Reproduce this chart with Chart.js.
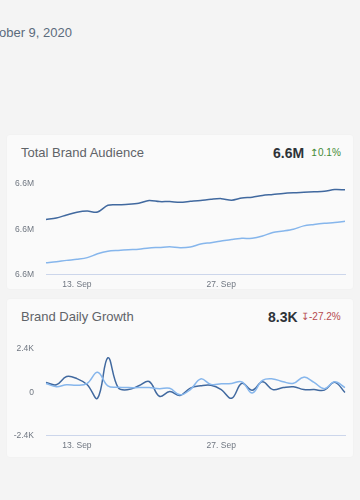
<!DOCTYPE html>
<html>
<head>
<meta charset="utf-8">
<script src="https://cdn.jsdelivr.net/npm/chart.js@4/dist/chart.umd.min.js"></script>
<style>
  body { margin: 0; width: 360px; height: 500px; background: #f4f4f4; font-family: "Liberation Sans", Arial, sans-serif; overflow: hidden; position: relative; }
  .date { position: absolute; right: 288px; top: 25px; font-size: 13px; color: #5b6b7c; white-space: nowrap; }
  .card { position: absolute; left: 7px; width: 346px; background: #fafafa; border-radius: 3px; box-shadow: 0 0 2px rgba(0,0,0,0.04); }
  .title { position: absolute; left: 14px; font-size: 13px; color: #5f6368; line-height: 16px; }
  .value { position: absolute; font-size: 14px; font-weight: bold; color: #2e3338; line-height: 16px; }
  .change { position: absolute; font-size: 10px; line-height: 16px; }
  .up { color: #438a36; }
  .down { color: #b64a4f; }
  .box { position: absolute; left: 0; width: 346px; }
</style>
</head>
<body>
<div class="date">October 9, 2020</div>

<div class="card" style="top:135px;height:154px;">
  <div class="title" style="top:10px;">Total Brand Audience</div>
  <div class="value" style="left:266px;top:10px;">6.6M</div>
  <div class="change up" style="left:303px;top:10px;">&#x21A5;0.1%</div>
  <div class="box" style="top:32px;height:125px;"><canvas id="audience"></canvas></div>
</div>

<div class="card" style="top:299px;height:158px;">
  <div class="title" style="top:10px;">Brand Daily Growth</div>
  <div class="value" style="left:261px;top:10px;">8.3K</div>
  <div class="change down" style="left:294px;top:10px;">&#x21A7;-27.2%</div>
  <div class="box" style="top:33px;height:121px;"><canvas id="growth"></canvas></div>
</div>

<script>
const days = ['10. Sep', '11. Sep', '12. Sep', '13. Sep', '14. Sep', '15. Sep', '16. Sep', '17. Sep', '18. Sep', '19. Sep',
  '20. Sep', '21. Sep', '22. Sep', '23. Sep', '24. Sep', '25. Sep', '26. Sep', '27. Sep', '28. Sep', '29. Sep',
  '30. Sep', '1. Oct', '2. Oct', '3. Oct', '4. Oct', '5. Oct', '6. Oct', '7. Oct', '8. Oct', '9. Oct'];
const shownDays = ['13. Sep', '27. Sep'];

const audienceTotal = [6604400, 6605100, 6606400, 6607600, 6608100, 6607700, 6610700, 6610900, 6611100, 6611600,
  6612800, 6612300, 6612300, 6612000, 6612400, 6612800, 6613300, 6613600, 6612900, 6613900,
  6614200, 6615000, 6615400, 6615900, 6616200, 6616400, 6616600, 6616800, 6617600, 6617500];
const audienceCompare = [6585300, 6585800, 6586400, 6586900, 6587600, 6589300, 6590400, 6590800, 6591100, 6591300,
  6591900, 6592100, 6592400, 6592000, 6592300, 6593600, 6594200, 6594900, 6595600, 6596100,
  6596100, 6597100, 6598700, 6599300, 6600100, 6601600, 6602200, 6602700, 6603100, 6603600];
const audienceTicks = [6580000, 6600000, 6620000];

const growthTotal = [560, 430, 880, 770, 430, -320, 1920, 270, 160, 370,
  610, -210, 50, -160, 240, 370, 400, 160, -320, 510,
  130, 590, 160, 270, 320, 160, 160, 130, 560, 0];
const growthCompare = [500, 320, 430, 400, 510, 1120, 370, 290, 270, 270,
  270, 210, 230, -130, 160, 750, 450, 480, 500, 590,
  -30, 670, 750, 590, 510, 850, 560, 210, 590, 270];
const growthTicks = [-2400, 0, 2400];

const darkBlue = '#41699f';
const lightBlue = '#86b6ec';
const tickFont = { family: '"Liberation Sans", Arial, sans-serif', size: 8.5 };

function lineChart(id, a, b, ticks, fmt, tension) {
  return new Chart(document.getElementById(id).getContext('2d'), {
    type: 'line',
    data: {
      labels: days,
      datasets: [{
        data: b,
        borderColor: lightBlue,
        borderWidth: 1.5,
        pointRadius: 0,
        tension: tension
      },
      {
        data: a,
        borderColor: darkBlue,
        borderWidth: 1.5,
        pointRadius: 0,
        tension: tension
      }]
    },
    options: {
      animation: false,
      responsive: true,
      maintainAspectRatio: false,
      layout: { padding: { top: 0, right: 8, left: 0, bottom: 0 } },
      plugins: { legend: { display: false }, tooltip: { enabled: false } },
      scales: {
        x: {
          grid: { display: false, drawTicks: false },
          border: { color: '#ccd6eb', width: 1 },
          ticks: {
            autoSkip: false,
            maxRotation: 0,
            padding: 5,
            color: '#6f7680',
            font: tickFont,
            callback: function (v, i) {
              return shownDays.includes(days[i]) ? days[i] : '';
            }
          },
          afterFit: function (s) { s.height = 17; }
        },
        y: {
          min: ticks[0],
          max: ticks[ticks.length - 1],
          afterBuildTicks: function (s) { s.ticks = ticks.map(v => ({ value: v })); },
          grid: { display: false, drawTicks: false },
          border: { display: false },
          ticks: {
            padding: 12,
            color: '#6f7680',
            font: tickFont,
            callback: fmt
          },
          afterFit: function (s) { s.width = 39; }
        }
      }
    }
  });
}

const audienceChart = lineChart('audience', audienceTotal, audienceCompare, audienceTicks,
  v => (v / 1e6).toFixed(1) + 'M', 0.3);
const growthChart = lineChart('growth', growthTotal, growthCompare, growthTicks,
  v => v === 0 ? '0' : (v / 1000).toFixed(1) + 'K', 0.4);
</script>
</body>
</html>
